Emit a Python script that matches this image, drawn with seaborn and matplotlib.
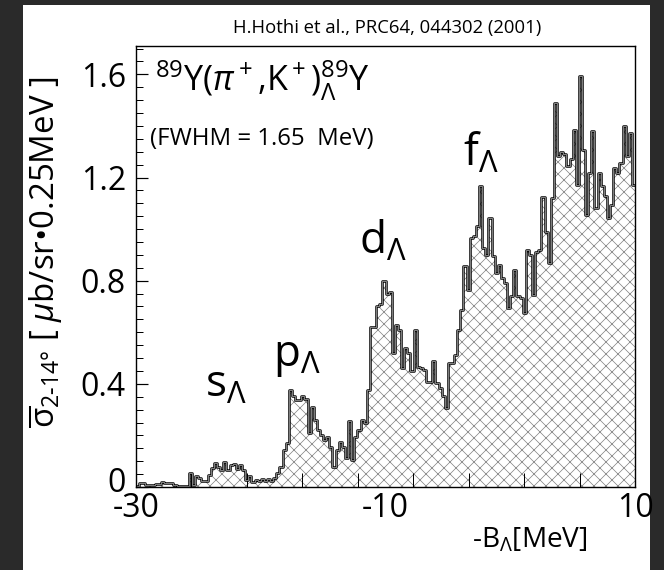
import matplotlib
matplotlib.use("Agg")
import numpy as np
import pandas as pd
import matplotlib.pyplot as plt
import matplotlib.transforms as mtrans
import seaborn as sns
from matplotlib.patches import Rectangle
from matplotlib.ticker import MultipleLocator, FixedLocator

# -B_Lambda binning: 0.25 MeV bins from -30 to 10 MeV
e_min = -30.0
e_max = 10.0
bin_w = 0.25

# cross section per bin [ub/sr/0.25MeV]
xs_low = [0.005, 0.014, 0.014, 0.008, 0.008, 0.008, 0.012, 0.012, 0.021, 0.017,
          0.017, 0.017, 0.008, 0.004, 0.004, 0.004, 0.004, 0.053, 0.008, 0.043,
          0.034, 0.025, 0.025, 0.047, 0.072, 0.094, 0.078, 0.066, 0.098, 0.066,
          0.085, 0.089, 0.068, 0.085, 0.066, 0.027, 0.043, 0.021]
xs_p = [0.027, 0.025, 0.030, 0.022, 0.032, 0.025, 0.035, 0.053, 0.079, 0.144,
        0.170, 0.377, 0.351, 0.338, 0.338, 0.351, 0.340, 0.209, 0.312, 0.260,
        0.221, 0.202, 0.183, 0.195, 0.156, 0.079, 0.144, 0.176, 0.156, 0.111,
        0.254, 0.105, 0.195, 0.221, 0.260, 0.247, 0.377, 0.620, 0.620, 0.700,
        0.710, 0.797, 0.750]
xs_d = [0.758, 0.519, 0.630, 0.610, 0.461, 0.539, 0.519, 0.448, 0.610, 0.467,
        0.461, 0.454, 0.409, 0.409, 0.487, 0.403, 0.383, 0.351, 0.306, 0.480,
        0.480, 0.513, 0.610, 0.687, 0.856, 0.765, 0.966, 0.972, 1.011, 1.166,
        0.927, 0.901, 1.043, 0.894, 0.830, 0.862, 0.810, 0.791, 0.693, 0.740]
xs_f = [0.843, 0.739, 0.733, 0.673, 0.920, 0.900, 0.745, 0.910, 0.920, 1.126,
        0.990, 0.868, 1.120, 1.488, 1.283, 1.300, 1.290, 1.244, 1.270, 1.386,
        1.172, 1.593, 1.305, 1.056, 1.218, 1.380, 1.082, 1.218, 1.166, 1.127,
        1.043, 1.095, 1.237, 1.217, 1.256, 1.398, 1.283, 1.373, 1.172]

# shell labels and where they sit
shells = ["s", "p", "d", "f"]
shell_pos = [(-24.5, 0.35), (-19.0, 0.47), (-12.1, 0.905), (-3.8, 1.245)]

y_ticks = [0, 0.4, 0.8, 1.2, 1.6]
x_ticks = [-30, -10, 10]

edges = np.arange(e_min, e_max + bin_w / 2, bin_w)
df = pd.DataFrame({"energy": edges[:-1] + bin_w / 2,
                   "xsec": xs_low + xs_p + xs_d + xs_f})

plt.rcParams["font.family"] = ["Open Sans", "DejaVu Sans"]
plt.rcParams["mathtext.fontset"] = "custom"
plt.rcParams["mathtext.rm"] = "Open Sans"
plt.rcParams["mathtext.it"] = "Open Sans:italic"
plt.rcParams["mathtext.bf"] = "Open Sans:bold"
plt.rcParams["hatch.linewidth"] = 0.7
plt.rcParams["axes.unicode_minus"] = False

W, H = 664, 570
fig = plt.figure(figsize=(W / 72, H / 72), dpi=72, facecolor="#2a2a2a")
fig.patches.append(Rectangle((23 / W, 0), (650 - 23) / W, 565 / H,
                             transform=fig.transFigure, facecolor="white",
                             edgecolor="none", zorder=-10))
ax = fig.add_axes([136 / W, 1 - 487 / H, (635 - 136) / W, (487 - 46) / H])

# hatched fill
sns.histplot(data=df, x="energy", weights="xsec", bins=list(edges),
             element="step", fill=True, facecolor="white", edgecolor="#808080",
             linewidth=0, hatch="xx", alpha=1, ax=ax)
# outline: black with lighter core
sns.histplot(data=df, x="energy", weights="xsec", bins=list(edges),
             element="step", fill=False, color="black", linewidth=2.5, ax=ax)
sns.histplot(data=df, x="energy", weights="xsec", bins=list(edges),
             element="step", fill=False, color="#a0a0a0", linewidth=0.8, ax=ax)

ax.set_xlim(e_min, e_max)
ax.set_ylim(0, 1.71)
ax.set_xlabel("")
ax.set_ylabel("")
for s in ax.spines.values():
    s.set_linewidth(1.4)
    s.set_color("black")

ax.yaxis.set_major_locator(FixedLocator(y_ticks))
ax.yaxis.set_major_formatter(plt.FixedFormatter([f"{v:g}" for v in y_ticks]))
ax.yaxis.set_minor_locator(MultipleLocator(0.05))
ax.xaxis.set_major_locator(FixedLocator(x_ticks))
ax.xaxis.set_minor_locator(FixedLocator(list(e_min + np.arange(1, 9) * 40 / 9)))
ax.tick_params(axis="y", which="major", direction="in", length=12, width=1.2,
               labelsize=32, pad=10)
ax.tick_params(axis="y", which="minor", direction="in", length=7, width=1.0)
ax.tick_params(axis="x", which="major", length=0, labelsize=32, pad=5)
ax.tick_params(axis="x", which="minor", direction="in", length=14, width=1.0)

# the "0" on the y axis sits a little above its tick, as in the original
fig.canvas.draw()
lab0 = ax.yaxis.get_major_ticks()[0].label1
lab0.set_transform(lab0.get_transform() +
                   mtrans.ScaledTranslation(0, 7 / 72, fig.dpi_scale_trans))

for name, (ex, ey) in zip(shells, shell_pos):
    ax.text(ex, ey, name + r"$_{\Lambda}$", fontsize=44, ha="left", va="baseline")


def fx(px):
    return px / W


def fy(py):
    return 1 - py / H


fig.text(fx(387), fy(28), "H.Hothi et al., PRC64, 044302 (2001)", fontsize=18.5,
         ha="center", va="center")
fig.text(fx(155), fy(91), r"$^{89}$Y($\pi^+$,K$^+$)$^{89}_{\Lambda}$Y",
         fontsize=34, ha="left", va="baseline")
fig.text(fx(150), fy(145), "(FWHM = 1.65  MeV)", fontsize=24, ha="left",
         va="baseline")
fig.text(fx(46), fy(252),
         r"$\overline{\mathrm{\sigma}}_{\mathrm{2‐14°}}$ [ $\mu$b/sr•0.25MeV ]",
         fontsize=33, rotation=90, ha="center", va="center")
fig.text(fx(530), fy(548), r"-B$_{\Lambda}$[MeV]", fontsize=28, ha="center",
         va="baseline")

fig.savefig("out.png", dpi=72, facecolor=fig.get_facecolor())
